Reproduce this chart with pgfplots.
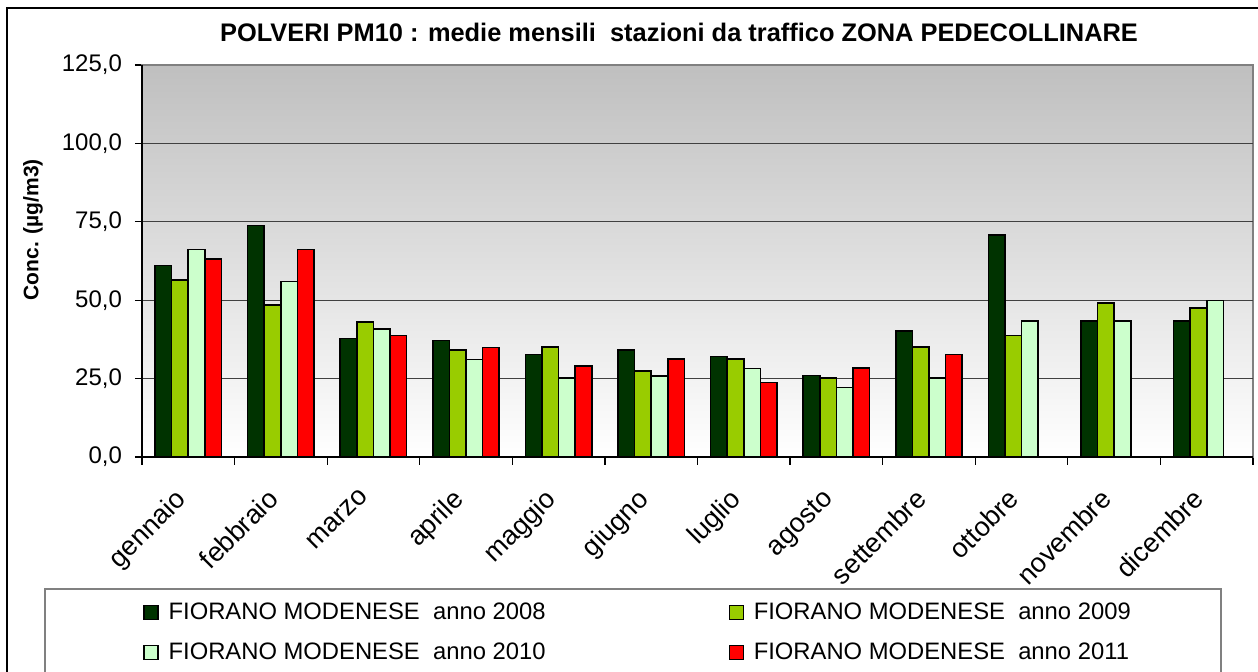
\documentclass[border=0pt]{standalone}
\usepackage{fontspec}
\setmainfont{Liberation Sans}
\usepackage{pgfplots}
\pgfplotsset{compat=1.18}
\definecolor{c08}{HTML}{003300}
\definecolor{c09}{HTML}{99CC00}
\definecolor{c10}{HTML}{CCFFCC}
\definecolor{c11}{HTML}{FF0000}
\begin{document}
\begin{tikzpicture}
\begin{axis}[
  at={(0,0)}, anchor=south west,
  scale only axis, width=555.5pt, height=196pt,
  ybar=0pt, bar width=8.3pt,
  xmin=-0.5, xmax=11.5, ymin=0, ymax=125,
  ytick={0,25,...,125},
  extra y ticks={25,50,75,100}, extra y tick labels={},
  extra y tick style={grid=major, major tick length=0pt},
  grid style={black!75, line width=0.5pt},
  xtick={0,...,11},
  xticklabels={gennaio,febbraio,marzo,aprile,maggio,giugno,luglio,agosto,settembre,ottobre,novembre,dicembre},
  major x tick style={draw=none},
  minor xtick={-0.5,0.5,...,11.5},
  minor tick length=4pt, major tick length=3.5pt,
  tick align=outside, xtick pos=bottom, ytick pos=left,
  tick style={black, line width=0.6pt},
  axis line style={draw=gray, line width=0.8pt},
  axis background/.style={shade, top color=black!25, bottom color=white},
  yticklabel style={font=\fontsize{12}{14}\selectfont, xshift=-3pt, /pgf/number format/.cd, fixed, fixed zerofill, precision=1, use comma, assume math mode=true},
  xticklabel style={font=\fontsize{13.5}{16}\selectfont, xshift=-7.5pt, yshift=-10pt, rotate=45, anchor=north east, inner sep=1pt},
  ylabel={\textbf{Conc. (µg/m3)}},
  ylabel style={font=\fontsize{10.5}{12}\selectfont, at={(axis description cs:-0.098,0.58)}, anchor=center},
  every axis plot/.append style={draw=black, line width=0.8pt},
  legend columns=2,
  legend style={draw=none, fill=none, inner sep=0pt, at={(axis description cs:0.0009,-0.3597)}, anchor=north west,
    font=\fontsize{11.9}{13}\selectfont, row sep=6.5pt,
    /tikz/every odd column/.append style={column sep=3pt},
    /tikz/every even column/.append style={column sep=0pt}},
  legend cell align=left,
  legend image code/.code={\draw[#1, line width=0.6pt] (0pt,-3.5pt) rectangle (7pt,3.5pt);},
  clip=false,
]
\addplot[fill=c08] coordinates {(0,61.0) (1,73.8) (2,37.8) (3,37.1) (4,32.7) (5,34.2) (6,32.0) (7,26.0) (8,40.2) (9,70.8) (10,43.3) (11,43.3)};
\addplot[fill=c09] coordinates {(0,56.5) (1,48.4) (2,43.0) (3,34.1) (4,35.0) (5,27.5) (6,31.2) (7,25.2) (8,35.0) (9,38.7) (10,49.2) (11,47.5)};
\addplot[fill=c10] coordinates {(0,66.2) (1,55.9) (2,40.9) (3,31.1) (4,25.2) (5,25.9) (6,28.2) (7,22.2) (8,25.1) (9,43.3) (10,43.3) (11,49.9)};
\addplot[fill=c11] coordinates {(0,63.2) (1,66.2) (2,38.7) (3,34.9) (4,29.0) (5,31.2) (6,23.7) (7,28.3) (8,32.7)};
\legend{\makebox[278pt][l]{FIORANO MODENESE\ \ anno 2008},FIORANO MODENESE\ \ anno 2009,\makebox[278pt][l]{FIORANO MODENESE\ \ anno 2010},FIORANO MODENESE\ \ anno 2011}
\draw[black, line width=0.8pt] (rel axis cs:0,1) -- (rel axis cs:0,0) -- (rel axis cs:1,0);
\end{axis}
\node[font=\fontsize{12.7}{14}\selectfont\bfseries] at (268.5pt,212.5pt) {POLVERI PM10 : medie mensili\ \ stazioni da traffico ZONA PEDECOLLINARE};
\draw[black, line width=0.6pt] (-67.5pt,-130pt) rectangle (565pt,224.5pt);
\draw[gray, line width=0.8pt] (-48.5pt,-130pt) rectangle (539.5pt,-66pt);
\pgfresetboundingbox
\path (-71pt,-107.5pt) rectangle (558pt,228.5pt);
\end{tikzpicture}
\end{document}
